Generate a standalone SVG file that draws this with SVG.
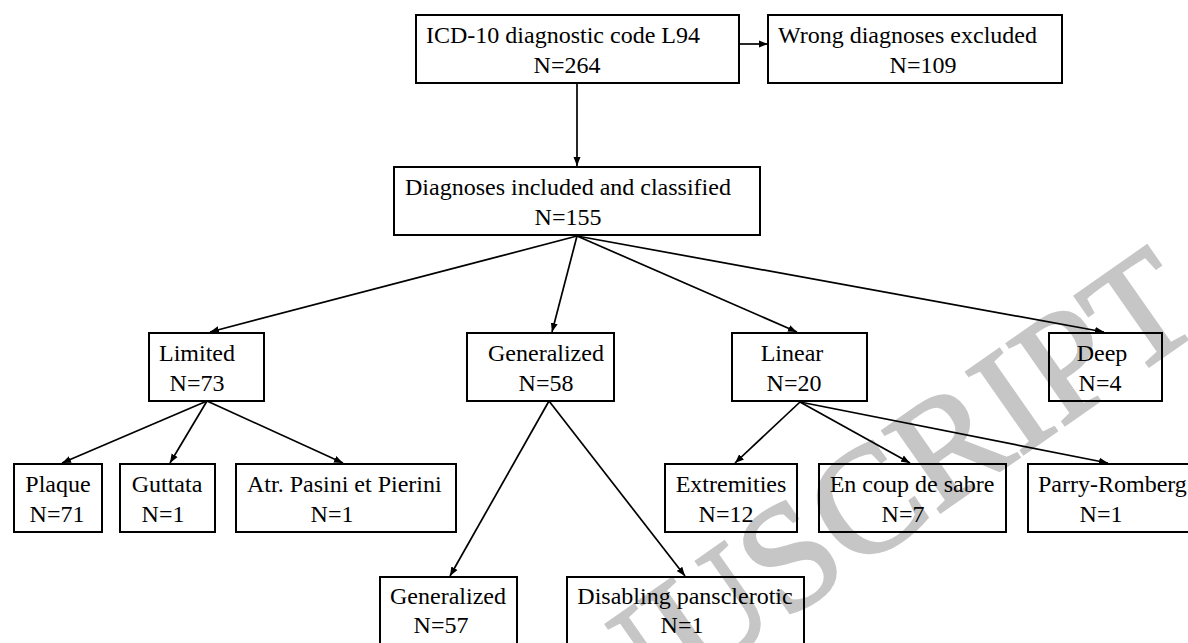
<svg xmlns="http://www.w3.org/2000/svg" width="1188" height="643" viewBox="0 0 1188 643">
<style>
.box{fill:none;stroke:#000;stroke-width:2}
.t{font-family:"Liberation Serif","Times New Roman",serif;font-size:24px;fill:#000}
.c{text-anchor:middle}
.ln{stroke:#000;stroke-width:1.7;fill:none;marker-end:url(#ah)}
.wm{font-family:"Liberation Serif","Times New Roman",serif;font-size:152px;fill:#c6c6c6;stroke:#c6c6c6;stroke-width:3}
</style>
<defs>
<marker id="ah" markerUnits="userSpaceOnUse" markerWidth="10" markerHeight="8" refX="9" refY="4" orient="auto">
<path d="M0,0.5 L9,4 L0,7.5 Z" fill="#000"/>
</marker>
</defs>
<rect width="1188" height="643" fill="#fff"/>
<g id="watermark">
<text class="wm" text-anchor="end" transform="translate(1206,326) rotate(-35)">MANUSCRIPT</text>
</g>
<g id="connectors">
<line class="ln" x1="739" y1="44" x2="768" y2="44"/>
<line class="ln" x1="577" y1="83" x2="577" y2="166"/>
<line class="ln" x1="577" y1="236" x2="210" y2="332"/>
<line class="ln" x1="577" y1="236" x2="552" y2="332"/>
<line class="ln" x1="577" y1="236" x2="797" y2="332"/>
<line class="ln" x1="577" y1="236" x2="1104" y2="332"/>
<line class="ln" x1="207" y1="401" x2="62" y2="463"/>
<line class="ln" x1="207" y1="401" x2="170" y2="463"/>
<line class="ln" x1="207" y1="401" x2="343" y2="463"/>
<line class="ln" x1="549" y1="401" x2="450" y2="576"/>
<line class="ln" x1="549" y1="401" x2="685" y2="576"/>
<line class="ln" x1="800" y1="402" x2="735" y2="463"/>
<line class="ln" x1="800" y1="402" x2="910" y2="463"/>
<line class="ln" x1="800" y1="402" x2="1108" y2="463"/>
</g>
<g id="n-icd">
<rect class="box" x="416" y="15" width="323" height="68"/>
<text class="t" x="426" y="43">ICD-10 diagnostic code L94</text>
<text class="t c" x="567" y="73">N=264</text>
</g>
<g id="n-wrong">
<rect class="box" x="768" y="15" width="294" height="68"/>
<text class="t" x="778" y="43">Wrong diagnoses excluded</text>
<text class="t c" x="923" y="73">N=109</text>
</g>
<g id="n-included">
<rect class="box" x="394" y="167" width="366" height="68"/>
<text class="t" x="405" y="195">Diagnoses included and classified</text>
<text class="t c" x="568" y="225">N=155</text>
</g>
<g id="n-limited">
<rect class="box" x="149" y="333" width="115" height="68"/>
<text class="t" x="159" y="361">Limited</text>
<text class="t c" x="197" y="391">N=73</text>
</g>
<g id="n-generalized">
<rect class="box" x="467" y="333" width="147" height="68"/>
<text class="t" x="488" y="361">Generalized</text>
<text class="t c" x="546" y="391">N=58</text>
</g>
<g id="n-linear">
<rect class="box" x="732" y="333" width="135" height="68"/>
<text class="t c" x="792" y="361">Linear</text>
<text class="t c" x="794" y="391">N=20</text>
</g>
<g id="n-deep">
<rect class="box" x="1049" y="333" width="113" height="68"/>
<text class="t c" x="1102" y="361">Deep</text>
<text class="t c" x="1100" y="391">N=4</text>
</g>
<g id="n-plaque">
<rect class="box" x="14" y="464" width="88" height="68"/>
<text class="t c" x="58" y="492">Plaque</text>
<text class="t c" x="57" y="522">N=71</text>
</g>
<g id="n-guttata">
<rect class="box" x="120" y="464" width="95" height="68"/>
<text class="t c" x="167" y="492">Guttata</text>
<text class="t c" x="163" y="522">N=1</text>
</g>
<g id="n-atr">
<rect class="box" x="236" y="464" width="220" height="68"/>
<text class="t" x="247" y="492">Atr. Pasini et Pierini</text>
<text class="t c" x="332" y="522">N=1</text>
</g>
<g id="n-extremities">
<rect class="box" x="665" y="464" width="132" height="68"/>
<text class="t c" x="731" y="492">Extremities</text>
<text class="t c" x="726" y="522">N=12</text>
</g>
<g id="n-encoup">
<rect class="box" x="819" y="464" width="187" height="68"/>
<text class="t c" x="912" y="492">En coup de sabre</text>
<text class="t c" x="903" y="522">N=7</text>
</g>
<g id="n-parry">
<rect class="box" x="1028" y="464" width="170" height="68"/>
<text class="t" x="1038" y="492">Parry-Romberg</text>
<text class="t c" x="1101" y="522">N=1</text>
</g>
<g id="n-generalized57">
<rect class="box" x="380" y="577" width="137" height="70"/>
<text class="t c" x="448" y="604">Generalized</text>
<text class="t c" x="441" y="633">N=57</text>
</g>
<g id="n-disabling">
<rect class="box" x="567" y="577" width="237" height="70"/>
<text class="t c" x="685" y="604">Disabling pansclerotic</text>
<text class="t c" x="682" y="633">N=1</text>
</g>
</svg>
